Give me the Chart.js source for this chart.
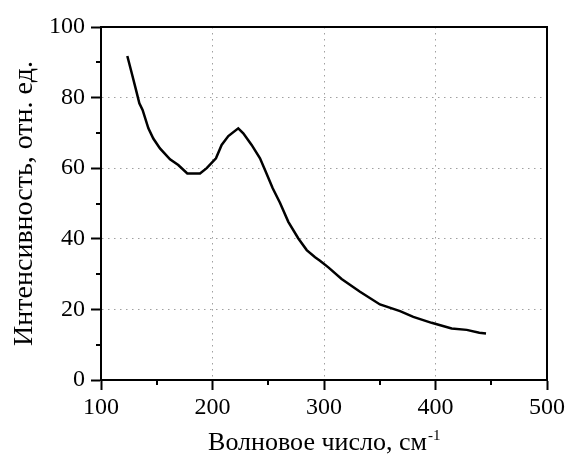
<!DOCTYPE html>
<html>
<head>
<meta charset="utf-8">
<script src="https://cdn.jsdelivr.net/npm/chart.js@4"></script>
<style>
    html, body { margin: 0; padding: 0; background: #fff; }
    #wrap { width: 568px; height: 457px; }
</style>
</head>
<body>
<div id="wrap"><canvas id="chart1"></canvas></div>
<script>
// Волновое число (см-1) и интенсивность (отн. ед.)
const wavenumber = [123.6, 128, 131.4, 134.4, 137.3, 142.5, 146.9, 152.9, 161.9, 169.3, 177.4, 188.8, 194.8, 203.1, 208.2, 214.2, 223.1, 227.6, 235.1, 242.6, 247.1, 254, 260.5, 268, 277, 284.5, 292, 296.4, 303.9, 315.8, 332.3, 350.2, 368.2, 380.1, 396.5, 414.5, 428, 439.3, 445.3];
const intensity = [91.8, 86.4, 82.2, 78.4, 76.5, 71.3, 68.4, 65.6, 62.5, 60.9, 58.5, 58.5, 60, 62.8, 66.6, 69.1, 71.3, 69.9, 66.6, 62.8, 59.5, 54.3, 50.2, 44.8, 40.1, 36.8, 34.8, 33.8, 31.9, 28.6, 25, 21.4, 19.5, 17.9, 16.2, 14.6, 14.2, 13.4, 13.2];
const xMinorTicks = [150, 250, 350, 450];
const yMinorTicks = [10, 30, 50, 70, 90];

const FONT = "'Liberation Serif', 'Times New Roman', serif";
const X_TITLE = 'Волновое число, см';
const X_TITLE_PAD = '  ';

// Рамка графика, малые деления и показатель степени у единиц
const framePlugin = {
    id: 'frame',
    afterDraw(chart) {
        const {ctx, chartArea: a, scales: {x, y}} = chart;
        ctx.save();
        ctx.strokeStyle = '#000';
        ctx.lineWidth = 2;
        ctx.strokeRect(a.left, a.top, a.right - a.left, a.bottom - a.top);
        ctx.beginPath();
        xMinorTicks.forEach(v => {
            const px = Math.round(x.getPixelForValue(v));
            ctx.moveTo(px, a.bottom);
            ctx.lineTo(px, a.bottom + 5);
        });
        yMinorTicks.forEach(v => {
            const py = Math.round(y.getPixelForValue(v));
            ctx.moveTo(a.left, py);
            ctx.lineTo(a.left - 5, py);
        });
        ctx.stroke();
        // верхний индекс "-1" после подписи оси X
        ctx.font = '26px ' + FONT;
        const w = ctx.measureText(X_TITLE).width;
        const full = ctx.measureText(X_TITLE + X_TITLE_PAD).width;
        const endX = (a.left + a.right) / 2 - full / 2 + w;
        ctx.font = '15px ' + FONT;
        ctx.fillStyle = '#000';
        ctx.textBaseline = 'alphabetic';
        ctx.fillText('-1', endX + 1, 440);
        ctx.restore();
    }
};

new Chart(document.getElementById('chart1'), {
    type: 'line',
    data: {
        datasets: [{
            data: wavenumber.map((v, i) => ({x: v, y: intensity[i]})),
            borderColor: '#000',
            borderWidth: 2.5,
            pointRadius: 0,
            tension: 0,
            fill: false
        }]
    },
    options: {
        responsive: true,
        maintainAspectRatio: false,
        animation: false,
        events: [],
        layout: {padding: {top: 27, right: 21, left: 0, bottom: 0}},
        plugins: {legend: {display: false}, tooltip: {enabled: false}},
        scales: {
            x: {
                type: 'linear',
                min: 100,
                max: 500,
                afterFit: s => { s.height = 77; },
                ticks: {stepSize: 100, color: '#000', padding: 3, font: {family: FONT, size: 24}},
                grid: {
                    color: c => (c.tick && c.tick.value > 100 && c.tick.value < 500) ? '#a0a0a0' : 'rgba(0,0,0,0)',
                    lineWidth: 1,
                    tickColor: '#000',
                    tickWidth: 2,
                    tickLength: 10
                },
                border: {display: true, color: '#000', width: 2, dash: [1.5, 4.5]},
                title: {display: true, text: X_TITLE + X_TITLE_PAD, color: '#000', padding: {top: 0, bottom: -2}, font: {family: FONT, size: 26}}
            },
            y: {
                min: 0,
                max: 100,
                afterFit: s => { s.width = 101; },
                ticks: {stepSize: 20, color: '#000', padding: 6, font: {family: FONT, size: 24}},
                grid: {
                    color: c => (c.tick && c.tick.value > 0 && c.tick.value < 100) ? '#a0a0a0' : 'rgba(0,0,0,0)',
                    lineWidth: 1,
                    tickColor: '#000',
                    tickWidth: 2,
                    tickLength: 10
                },
                border: {display: true, color: '#000', width: 2, dash: [1.5, 4.5]},
                title: {display: true, text: 'Интенсивность, отн. ед.', color: '#000', padding: {top: 8, bottom: 0}, font: {family: FONT, size: 28}}
            }
        }
    },
    plugins: [framePlugin]
});
</script>
</body>
</html>
